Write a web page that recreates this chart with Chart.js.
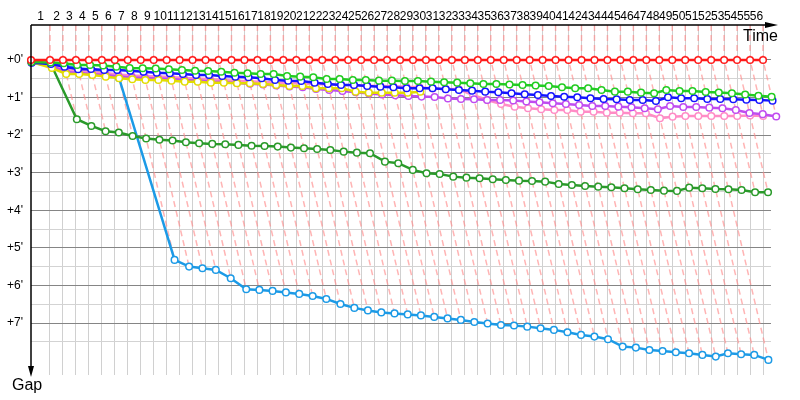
<!DOCTYPE html>
<html><head><meta charset="utf-8">
<script src="https://cdn.jsdelivr.net/npm/chart.js@4.4.1/dist/chart.umd.min.js"></script>
<style>html,body{margin:0;padding:0;background:#fff;}</style>
</head><body>
<canvas id="c" width="800" height="400"></canvas>
<script>
// ---- data ----
const lapLabels = ['1','2','3','4','5','6','7','8','9','10','11','12','13','14','15','16','17','18','19','20','21','22','23','24','25','26','27','28','29','30','31','32','33','34','35','36','37','38','39','40','41','42','43','44','45','46','47','48','49','50','51','52','53','54','55','56'];
// leader lap times, seconds (lap 1 .. 56)
const leaderLapSeconds = [129.5,88.4,88.4,88.4,88.4,88.4,88.4,88.4,88.4,88.4,88.4,88.4,88.4,88.4,88.4,88.4,88.4,88.4,88.4,88.4,88.4,88.4,88.4,88.4,88.4,88.4,88.4,88.4,88.4,88.4,88.4,88.4,88.4,88.4,88.4,88.4,88.4,88.4,88.4,88.4,88.4,88.4,88.4,88.4,88.4,88.4,88.4,88.4,88.4,88.4,88.4,88.4,88.4,88.4,88.4,88.4];
const gapLabels = ["+0'","+1'","+2'","+3'","+4'","+5'","+6'","+7'"];
// gaps to leader in seconds, lap 0 .. last lap completed
const gapRed = [0,0,0,0,0,0,0,0,0,0,0,0,0,0,0,0,0,0,0,0,0,0,0,0,0,0,0,0,0,0,0,0,0,0,0,0,0,0,0,0,0,0,0,0,0,0,0,0,0,0,0,0,0,0,0,0,0];
const gapGreen = [3.2,4.0,5.3,8.0,8.0,8.8,10.7,12.8,13.3,13.6,14.8,16.0,17.1,17.6,18.7,20.3,21.2,22.3,22.3,25.5,26.6,27.6,30.3,30.3,31.9,31.9,33.0,33.0,33.5,33.5,34.6,35.6,36.2,37.2,38.3,38.3,39.1,39.9,40.7,41.5,43.6,45.2,45.2,47.9,50.6,50.6,52.2,53.1,47.9,49.5,49.5,51.1,51.9,53.1,55.1,57.1,58.6];
const gapBlue = [4.3,6.4,10.7,14.8,14.4,16.0,16.0,17.1,18.7,20.3,21.2,22.3,23.9,23.9,25.5,26.6,27.6,29.2,31.9,33.0,33.5,36.2,38.3,39.9,39.9,41.5,42.6,43.6,45.2,45.2,45.2,46.8,47.9,49.0,50.6,51.5,53.1,54.7,55.9,57.4,58.6,59.5,61.1,62.2,62.7,63.8,63.8,65.4,59.5,61.1,61.1,62.2,62.2,62.7,63.4,63.8,64.9];
const gapYellow = [3.2,12.8,22.3,22.3,23.9,26.6,29.2,30.8,31.9,31.9,33.0,34.6,34.6,36.2,36.2,37.2,37.2,38.3,39.9,41.5,41.5,45.2,45.2,45.2,50.6,52.2,52.2,52.2,52.2,50.6];
const gapPurple = [4.0,9.6,19.1,20.7,22.3,23.9,26.3,27.9,28.7,29.5,30.3,31.9,32.7,34.3,35.1,36.7,37.8,39.1,40.7,42.3,43.6,46.3,47.9,49.5,51.5,53.5,55.0,56.5,57.5,58.5,59.2,61.4,62.2,62.7,63.8,63.8,64.6,66.2,67.5,69.1,70.2,71.8,73.4,73.4,74.5,75.5,77.1,78.7,73.4,75.0,75.0,76.1,77.1,79.8,84.6,86.5,90.2];
const gapPink = [4.0,8.0,16.0,17.6,19.1,20.7,23.1,24.7,25.5,26.3,27.1,28.7,29.5,30.8,31.9,33.0,34.0,35.1,35.9,36.7,37.5,38.3,39.1,39.9,40.4,41.0,41.5,42.0,42.6,43.6,45.5,46.3,46.8,55.9,63.8,70.2,74.5,77.1,78.7,79.8,79.8,82.5,82.5,84.1,84.1,85.1,85.1,93.0,90.5,89.4,89.4,89.4,89.4,89.4,88.6,89.4];
const gapDarkGreen = [3.2,6.9,94.6,105.3,113.8,115.7,121.3,125.3,127.3,128.5,131.3,132.9,134.0,134.5,135.6,136.8,137.2,138.3,139.9,140.9,142.0,143.6,146.3,147.9,148.9,162.3,164.8,175.5,180.8,181.9,186.2,187.8,188.8,190.4,191.5,192.6,193.1,194.2,197.9,199.5,201.1,202.2,203.2,204.8,206.4,207.5,208.6,209.0,203.8,204.8,205.9,206.4,207.5,211.1,211.1];
const gapLightBlue = [4.0,6.4,9.6,12.8,16.0,20.7,28.7,319.1,329.8,332.4,335.1,348.3,365.9,367.0,368.6,371.0,373.4,376.6,381.4,389.4,395.7,399.7,402.9,404.5,406.1,407.7,410.1,412.5,414.9,418.1,420.5,422.9,423.7,425.6,428.1,430.8,434.5,438.8,441.5,445.7,457.5,459.1,462.8,464.4,466.4,468.0,470.7,473.4,468.0,469.6,470.7,478.7];

const cars = [
  {gaps: gapRed, color: '#ff1a1a'},
  {gaps: gapGreen, color: '#22cc22'},
  {gaps: gapBlue, color: '#1414ff'},
  {gaps: gapYellow, color: '#e2dc00'},
  {gaps: gapPurple, color: '#c04cf0'},
  {gaps: gapPink, color: '#ff8cc6'},
  {gaps: gapDarkGreen, color: '#2a9a2a'},
  {gaps: gapLightBlue, color: '#1c9ae6'}
];

// ---- derived ----
const leaderTime = [0]; // minutes
leaderLapSeconds.forEach(s => leaderTime.push(leaderTime[leaderTime.length-1] + s/60));
const labelPos = lapLabels.map((_, i) => (leaderTime[i] + leaderTime[i+1]) / 2);
const Y_MIN = -0.93, Y_MAX = 8.38, X_MAX = 84.1;

const datasets = [];
cars.forEach(c => {
  datasets.push({
    data: c.gaps.map((g, k) => ({x: leaderTime[k] + g/60, y: g/60})),
    borderColor: c.color, backgroundColor: '#fff',
    borderWidth: 2.5, pointRadius: 3.3, pointBorderWidth: 1.5,
    pointBackgroundColor: '#fff', pointBorderColor: c.color,
    tension: 0, clip: false, order: 0
  });
});
for (let k = 1; k < leaderTime.length; k++) {
  let gmax = 0;
  cars.forEach(c => { if (c.gaps.length > k) gmax = Math.max(gmax, c.gaps[k]); });
  datasets.push({
    data: [{x: leaderTime[k], y: Y_MIN}, {x: leaderTime[k], y: 0}, {x: leaderTime[k] + gmax/60, y: gmax/60}],
    borderColor: 'rgba(255,140,140,0.65)', borderWidth: 1.5, borderDash: [6,4],
    pointRadius: 0, tension: 0, clip: false, order: 5
  });
}

const deco = {
  id: 'deco',
  afterDraw(chart) {
    const {ctx, chartArea: a} = chart;
    ctx.save();
    ctx.strokeStyle = '#000'; ctx.fillStyle = '#000'; ctx.lineWidth = 1.5;
    ctx.beginPath(); ctx.moveTo(a.left, a.top); ctx.lineTo(a.right + 2, a.top); ctx.stroke();
    ctx.beginPath(); ctx.moveTo(a.right + 7, a.top); ctx.lineTo(a.right - 6, a.top - 3); ctx.lineTo(a.right - 6, a.top + 3); ctx.closePath(); ctx.fill();
    ctx.beginPath(); ctx.moveTo(a.left, a.top); ctx.lineTo(a.left, a.bottom - 4); ctx.stroke();
    ctx.beginPath(); ctx.moveTo(a.left, a.bottom + 2); ctx.lineTo(a.left - 3, a.bottom - 9); ctx.lineTo(a.left + 3, a.bottom - 9); ctx.closePath(); ctx.fill();
    ctx.font = '16px "Liberation Sans", Arial, sans-serif';
    ctx.textBaseline = 'alphabetic'; ctx.textAlign = 'left';
    ctx.fillText('Time', a.right - 28, a.top + 16);
    ctx.fillText('Gap', a.left - 19, a.bottom + 15);
    ctx.restore();
  }
};

const font = {family: '"Liberation Sans", Arial, sans-serif', size: 12};
new Chart(document.getElementById('c'), {
  type: 'line',
  data: {datasets},
  plugins: [deco],
  options: {
    responsive: false, animation: false, events: [],
    layout: {padding: {left: 0, top: 0, right: 29, bottom: 25}},
    plugins: {legend: {display: false}, tooltip: {enabled: false}},
    scales: {
      x: {
        type: 'linear', position: 'top', min: 0, max: X_MAX,
        afterBuildTicks: s => { s.ticks = labelPos.map(v => ({value: v})); },
        afterFit: s => { s.height = 25; },
        grid: {display: false, drawTicks: false},
        border: {display: false},
        ticks: {autoSkip: false, maxRotation: 0, minRotation: 0, padding: 1, color: '#000', font,
                callback: (v, i) => lapLabels[i]}
      },
      xg: {
        type: 'linear', position: 'top', min: 0, max: X_MAX,
        afterBuildTicks: s => { s.ticks = leaderTime.slice(1).map(v => ({value: v})); },
        afterFit: s => { s.height = 0; },
        grid: {color: '#d0d0d0', lineWidth: 1, drawTicks: false},
        border: {display: false},
        ticks: {display: false}
      },
      y: {
        type: 'linear', reverse: true, min: Y_MIN, max: Y_MAX,
        afterBuildTicks: s => {
          const t = [];
          gapLabels.forEach((_, i) => { t.push({value: i}); t.push({value: i + 0.5}); });
          s.ticks = t;
        },
        afterFit: s => { s.width = 31; },
        grid: {drawTicks: false, lineWidth: 1,
               color: c => Number.isInteger(c.tick.value) ? '#858585' : '#d3d3d3'},
        border: {display: false},
        ticks: {padding: 8, color: '#000', font,
                callback: v => Number.isInteger(v) ? gapLabels[v] : ''}
      }
    }
  }
});
</script>
</body></html>
